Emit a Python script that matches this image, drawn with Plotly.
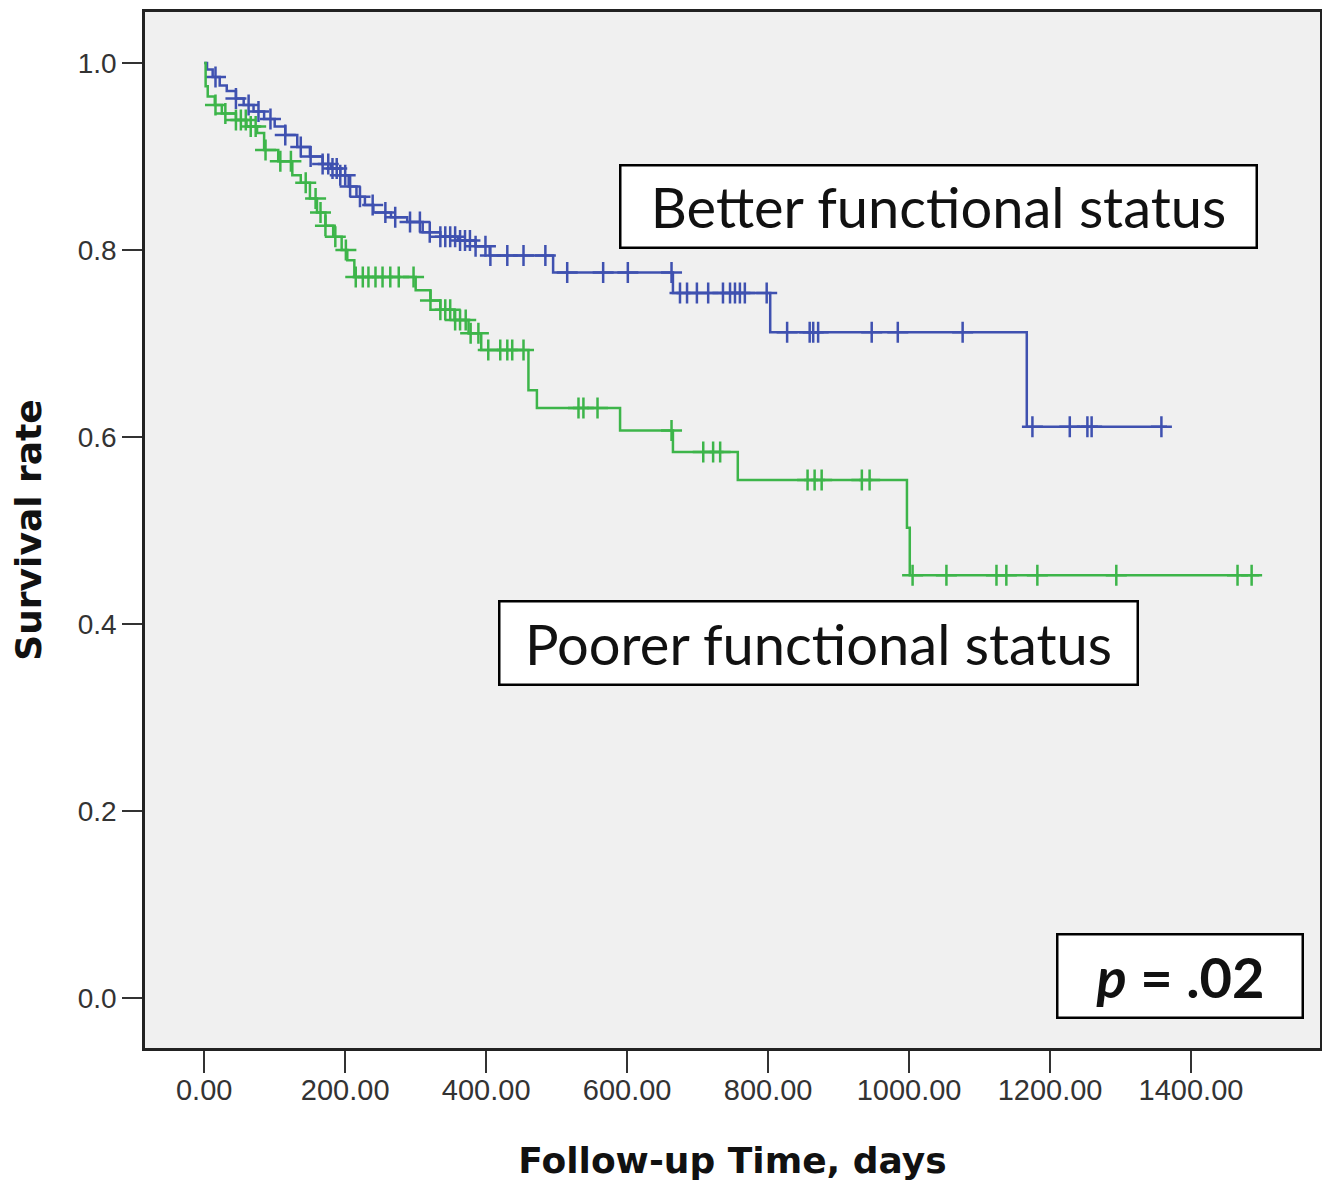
import plotly.graph_objects as go
import numpy as np

# ---- Data ----
# Better functional status: step events (time in days, survival after step)
better_times = [0, 4, 12, 22, 32, 45, 56, 70, 85, 100, 115, 132, 150, 168, 180, 193, 205, 216, 228, 240,
                265, 288, 310, 335, 360, 385, 405, 495, 665, 803, 1167]
better_surv = [1.000, 0.993, 0.985, 0.976, 0.970, 0.962, 0.955, 0.948, 0.940, 0.932, 0.923, 0.910, 0.900,
               0.892, 0.887, 0.880, 0.868, 0.857, 0.848, 0.840, 0.835, 0.830, 0.819, 0.814, 0.810, 0.804,
               0.794, 0.776, 0.754, 0.712, 0.611]
better_end = 1366
better_censor = [16, 45, 63, 77, 94, 115, 137, 151, 168, 176, 182, 188, 193, 200, 207, 221, 239, 257, 271,
                 292, 306, 320, 335, 342, 349, 356, 363, 370, 377, 385, 399, 406, 430, 453, 484, 515, 566,
                 601, 663, 675, 685, 699, 715, 736, 746, 753, 760, 767, 798, 827, 859, 864, 871, 947, 984,
                 1076, 1175, 1228, 1253, 1259, 1358]

# Poorer functional status
poorer_times = [0, 2, 5, 15, 25, 45, 60, 75, 85, 105, 125, 137, 150, 160, 172, 183, 195, 203, 213, 300,
                321, 335, 355, 375, 393, 460, 472, 590, 665, 757, 997, 1001]
poorer_surv = [1.000, 0.975, 0.964, 0.955, 0.946, 0.939, 0.932, 0.925, 0.907, 0.895, 0.880, 0.872, 0.855,
               0.840, 0.826, 0.814, 0.800, 0.789, 0.771, 0.757, 0.746, 0.736, 0.725, 0.711, 0.693, 0.650,
               0.631, 0.607, 0.584, 0.554, 0.503, 0.452]
poorer_end = 1497
poorer_censor = [16, 30, 45, 52, 59, 66, 73, 87, 108, 123, 144, 158, 165, 172, 186, 201, 215, 225, 233,
                 243, 253, 264, 276, 297, 321, 335, 342, 349, 356, 363, 371, 378, 389, 403, 420, 430, 437,
                 453, 531, 538, 558, 663, 708, 722, 732, 856, 866, 876, 933, 944, 1005, 1053, 1124, 1138,
                 1182, 1294, 1466, 1486]

x_ticks = [0, 200, 400, 600, 800, 1000, 1200, 1400]
x_tick_labels = ["0.00", "200.00", "400.00", "600.00", "800.00", "1000.00", "1200.00", "1400.00"]
y_ticks = [0.0, 0.2, 0.4, 0.6, 0.8, 1.0]
y_tick_labels = ["0.0", "0.2", "0.4", "0.6", "0.8", "1.0"]

BLUE = "#3f51b0"
GREEN = "#3db54a"


def step_value(times, surv, t):
    idx = np.searchsorted(np.array(times), t, side="right") - 1
    return surv[max(idx, 0)]


fig = go.Figure()

for times, surv, end, cens, color, name in [
    (better_times, better_surv, better_end, better_censor, BLUE, "Better functional status"),
    (poorer_times, poorer_surv, poorer_end, poorer_censor, GREEN, "Poorer functional status"),
]:
    xs = list(times) + [end]
    ys = list(surv) + [surv[-1]]
    fig.add_trace(go.Scatter(x=xs, y=ys, mode="lines", line=dict(color=color, width=2.5, shape="hv"),
                             name=name, showlegend=False, hoverinfo="skip"))
    cy = [step_value(times, surv, c) for c in cens]
    fig.add_trace(go.Scatter(x=cens, y=cy, mode="markers",
                             marker=dict(symbol="cross-thin", size=15, line=dict(color=color, width=2.5)),
                             name=name + " censored", showlegend=False))

box_font = dict(family="Lato, Open Sans, sans-serif", size=56, color="#111111")
fig.add_annotation(x=1042, y=0.8465, xref="x", yref="y", text="Better functional status", showarrow=False,
                   font=box_font, bgcolor="white", bordercolor="black", borderwidth=2.5, borderpad=0,
                   width=634, height=80)
fig.add_annotation(x=871, y=0.380, xref="x", yref="y", text="Poorer functional status", showarrow=False,
                   font=box_font, bgcolor="white", bordercolor="black", borderwidth=2.5, borderpad=0,
                   width=636, height=81)
fig.add_annotation(x=1384, y=0.024, xref="x", yref="y", text="<b><i>p</i> = .02</b>", showarrow=False,
                   font=dict(family="Lato, Open Sans, sans-serif", size=56, color="#111111"),
                   bgcolor="white", bordercolor="black", borderwidth=2.5, borderpad=0,
                   width=243, height=81)

# the page body adds an 8px offset, so the figure is sized to fit the 1330x1186 window
fig.update_layout(
    width=1322, height=1178,
    margin=dict(l=137, r=10, t=4, b=138),
    paper_bgcolor="white",
    plot_bgcolor="#f0f0f0",
    showlegend=False,
)
fig.update_xaxes(
    range=[-84, 1583], tickvals=x_ticks, ticktext=x_tick_labels, automargin=False,
    showline=True, mirror=True, linecolor="#222222", linewidth=2.5,
    ticks="outside", ticklen=22, tickwidth=2, tickcolor="#333333", ticklabelstandoff=-8,
    showgrid=False, zeroline=False,
    tickfont=dict(family="Liberation Sans, Arial", size=29, color="#333333"),
    title=dict(text="<b>Follow-up Time, days</b>", standoff=44,
               font=dict(family="DejaVu Sans, sans-serif", size=36, color="#111111")),
)
fig.update_yaxes(
    range=[-0.0535, 1.0545], tickvals=y_ticks, ticktext=y_tick_labels, automargin=False,
    showline=True, mirror=True, linecolor="#222222", linewidth=2.5,
    ticks="outside", ticklen=20, tickwidth=2, tickcolor="#333333",
    showgrid=False, zeroline=False,
    tickfont=dict(family="Liberation Sans, Arial", size=28, color="#333333"),
    title=dict(text="<b>Survival rate</b>", standoff=26,
               font=dict(family="DejaVu Sans, sans-serif", size=36, color="#111111")),
)

fig.write_html("out.html")
